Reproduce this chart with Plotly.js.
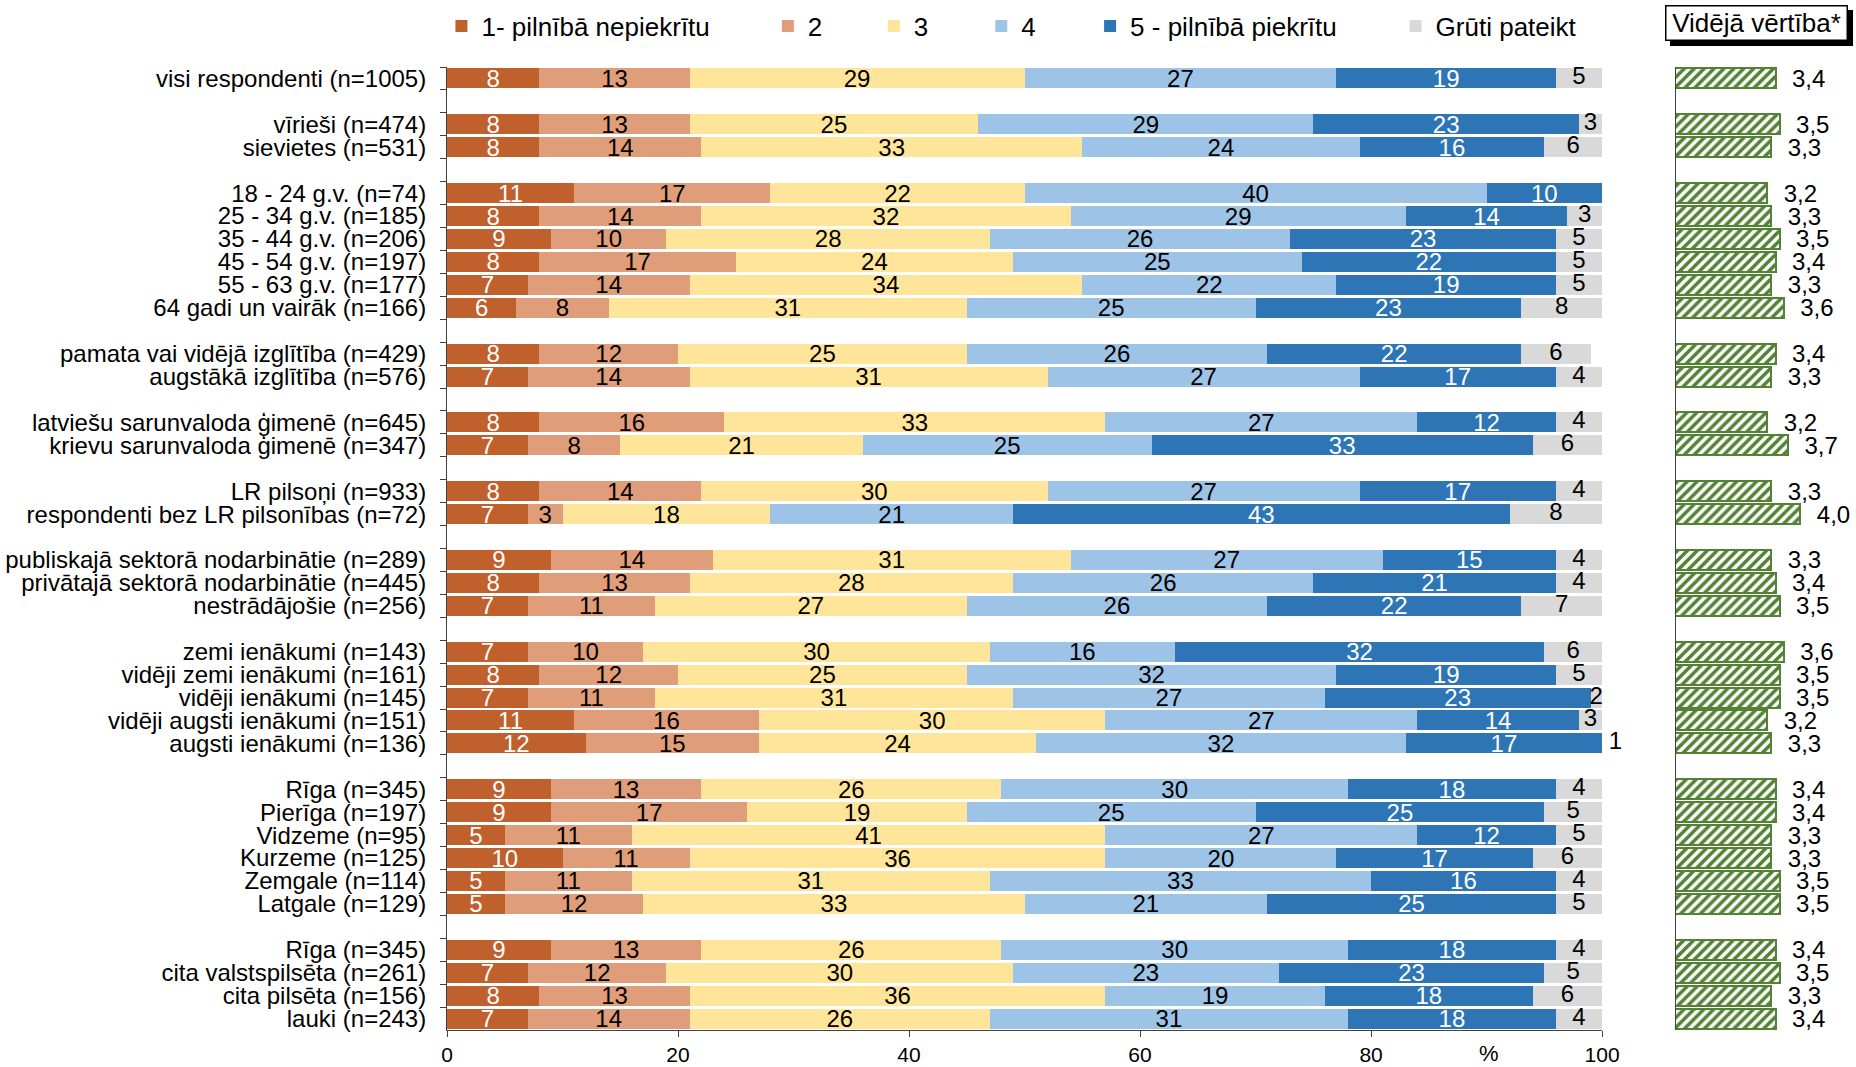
<!DOCTYPE html>
<html><head><meta charset="utf-8">
<script src="https://cdn.plot.ly/plotly-3.0.1.min.js"></script>
<style>html,body{margin:0;padding:0;background:#fff}#chart{width:1856px;height:1067px}</style>
</head><body><div id="chart"></div>
<script>
// ---------------- DATA ----------------
const categories = [
  'visi respondenti (n=1005)',
  'vīrieši (n=474)', 'sievietes (n=531)',
  '18 - 24 g.v. (n=74)', '25 - 34 g.v. (n=185)', '35 - 44 g.v. (n=206)', '45 - 54 g.v. (n=197)', '55 - 63 g.v. (n=177)', '64 gadi un vairāk (n=166)',
  'pamata vai vidējā izglītība (n=429)', 'augstākā izglītība (n=576)',
  'latviešu sarunvaloda ģimenē (n=645)', 'krievu sarunvaloda ģimenē (n=347)',
  'LR pilsoņi (n=933)', 'respondenti bez LR pilsonības (n=72)',
  'publiskajā sektorā nodarbinātie (n=289)', 'privātajā sektorā nodarbinātie (n=445)', 'nestrādājošie (n=256)',
  'zemi ienākumi (n=143)', 'vidēji zemi ienākumi (n=161)', 'vidēji ienākumi (n=145)', 'vidēji augsti ienākumi (n=151)', 'augsti ienākumi (n=136)',
  'Rīga (n=345)', 'Pierīga (n=197)', 'Vidzeme (n=95)', 'Kurzeme (n=125)', 'Zemgale (n=114)', 'Latgale (n=129)',
  'Rīga (n=345)\u200b', 'cita valstspilsēta (n=261)', 'cita pilsēta (n=156)', 'lauki (n=243)'
];
const groupSizes = [1, 2, 6, 2, 2, 2, 3, 5, 6, 4];

const seriesNames = ['1- pilnībā nepiekrītu', '2', '3', '4', '5 - pilnībā piekrītu', 'Grūti pateikt'];

const v1  = [8, 8, 8, 11, 8, 9, 8, 7, 6, 8, 7, 8, 7, 8, 7, 9, 8, 7, 7, 8, 7, 11, 12, 9, 9, 5, 10, 5, 5, 9, 7, 8, 7];
const v2  = [13, 13, 14, 17, 14, 10, 17, 14, 8, 12, 14, 16, 8, 14, 3, 14, 13, 11, 10, 12, 11, 16, 15, 13, 17, 11, 11, 11, 12, 13, 12, 13, 14];
const v3  = [29, 25, 33, 22, 32, 28, 24, 34, 31, 25, 31, 33, 21, 30, 18, 31, 28, 27, 30, 25, 31, 30, 24, 26, 19, 41, 36, 31, 33, 26, 30, 36, 26];
const v4  = [27, 29, 24, 40, 29, 26, 25, 22, 25, 26, 27, 27, 25, 27, 21, 27, 26, 26, 16, 32, 27, 27, 32, 30, 25, 27, 20, 33, 21, 30, 23, 19, 31];
const v5  = [19, 23, 16, 10, 14, 23, 22, 19, 23, 22, 17, 12, 33, 17, 43, 15, 21, 22, 32, 19, 23, 14, 17, 18, 25, 12, 17, 16, 25, 18, 23, 18, 18];
const vDK = [5, 3, 6, null, 3, 5, 5, 5, 8, 6, 4, 4, 6, 4, 8, 4, 4, 7, 6, 5, 2, 3, 1, 4, 5, 5, 6, 4, 5, 4, 5, 6, 4];

const meanValues = [3.4, 3.5, 3.3, 3.2, 3.3, 3.5, 3.4, 3.3, 3.6, 3.4, 3.3, 3.2, 3.7, 3.3, 4.0, 3.3, 3.4, 3.5, 3.6, 3.5, 3.5, 3.2, 3.3, 3.4, 3.4, 3.3, 3.3, 3.5, 3.5, 3.4, 3.5, 3.3, 3.4];

const xTicks = [0, 20, 40, 60, 80, 100];
const meanTitle = 'Vidējā vērtība*';
const unitLabel = '%';

// ---------------- BUILD ----------------
const FONT = 'Liberation Sans, Arial, Helvetica, sans-serif';
const colors = ['#C0602C', '#E09D7A', '#FFE599', '#9DC3E6', '#2E75B6', '#D9D9D9'];
const textColors = ['#ffffff', '#000000', '#000000', '#000000', '#ffffff', '#000000'];
const series = [v1, v2, v3, v4, v5, vDK];
const xMax = xTicks[xTicks.length - 1];

const catArray = [];
let k = 0;
groupSizes.forEach((n, g) => {
  for (let i = 0; i < n; i++) catArray.push(categories[k++]);
  if (g < groupSizes.length - 1) catArray.push(' '.repeat(g + 1));
});
const yRange = [catArray.length - 0.5, -0.5];

const traces = [];
series.forEach((vals, i) => {
  const last = i === series.length - 1;
  traces.push({
    type: 'bar', orientation: 'h', name: seriesNames[i],
    x: vals, y: categories,
    marker: { color: colors[i], line: { width: 0 } },
    text: vals.map(v => (v == null || last) ? '' : String(v)),
    textposition: 'inside', insidetextanchor: 'middle', textangle: 0, constraintext: 'none',
    insidetextfont: { family: FONT, size: 24, color: textColors[i] },
    legend: i === 0 ? 'legend' : 'legend' + (i + 1),
    hoverinfo: 'skip'
  });
});

// "Grūti pateikt" labels: centred in the visible part of the segment, tiny values to the right
const dkStart = categories.map((c, j) => [v1, v2, v3, v4, v5].reduce((s, a) => s + (a[j] || 0), 0));
const dkIn = [], dkOut = [];
vDK.forEach((v, j) => { if (v == null) return; (v > 1 ? dkIn : dkOut).push(j); });
traces.push({
  type: 'scatter', mode: 'text',
  x: dkIn.map(j => (dkStart[j] + Math.min(dkStart[j] + vDK[j], xMax)) / 2), y: dkIn.map(j => categories[j]),
  text: dkIn.map(j => String(vDK[j])), textposition: 'middle center', cliponaxis: false,
  textfont: { family: FONT, size: 24, color: '#000' }, showlegend: false, hoverinfo: 'skip'
});
traces.push({
  type: 'scatter', mode: 'text',
  x: dkOut.map(j => Math.min(dkStart[j] + vDK[j], xMax)), y: dkOut.map(j => categories[j]),
  text: dkOut.map(j => '\u00a0' + String(vDK[j])), textposition: 'middle right', cliponaxis: false,
  textfont: { family: FONT, size: 24, color: '#000' }, showlegend: false, hoverinfo: 'skip'
});

// mean values panel
traces.push({
  type: 'bar', orientation: 'h', x: meanValues, y: categories,
  xaxis: 'x2', yaxis: 'y2', showlegend: false, hoverinfo: 'skip',
  marker: { color: '#ffffff', pattern: { shape: '/', fgcolor: '#548235', bgcolor: '#ffffff', size: 7, solidity: 0.5 },
            line: { color: '#548235', width: 2 } },
  text: meanValues.map(v => '\u00a0\u00a0' + v.toFixed(1).replace('.', ',')),
  textposition: 'outside', cliponaxis: false, constraintext: 'none',
  outsidetextfont: { family: FONT, size: 24, color: '#000' }
});

const legendX = [-0.004, 0.230, 0.306, 0.383, 0.461, 0.680];
const legendY = 1.0426;

const layout = {
  width: 1856, height: 1067,
  margin: { l: 447, r: 14, t: 67, b: 37, autoexpand: false },
  paper_bgcolor: '#ffffff', plot_bgcolor: '#ffffff',
  font: { family: FONT, color: '#000' },
  barmode: 'stack', bargap: 0.13,
  showlegend: true,
  xaxis: {
    domain: [0, 0.828], range: [0, xMax], tickvals: xTicks, ticktext: xTicks.map(String),
    showgrid: false, zeroline: false, showline: true, linecolor: '#404040', linewidth: 1,
    ticks: 'outside', ticklen: 6, tickcolor: '#404040', tickfont: { family: FONT, size: 21, color: '#000' },
    ticklabelstandoff: 0, anchor: 'y', fixedrange: true
  },
  yaxis: {
    type: 'category', categoryorder: 'array', categoryarray: catArray, range: yRange, autorange: false,
    tickmode: 'linear', tick0: 0, dtick: 1,
    showgrid: false, zeroline: false, showline: true, linecolor: '#404040', linewidth: 1,
    ticks: 'outside', tickson: 'boundaries', ticklen: 6, tickcolor: '#404040',
    tickfont: { family: FONT, size: 24, color: '#000' }, ticklabelstandoff: 15, anchor: 'x', fixedrange: true
  },
  xaxis2: { domain: [0.881, 1.0], range: [1, 5], visible: false, anchor: 'y2', fixedrange: true },
  yaxis2: {
    type: 'category', categoryorder: 'array', categoryarray: catArray, range: yRange, autorange: false,
    showgrid: false, zeroline: false, showline: true, linecolor: '#404040', linewidth: 1,
    ticks: '', showticklabels: false, anchor: 'x2', fixedrange: true
  },
  shapes: [
    { type: 'rect', xref: 'paper', yref: 'paper', x0: 0.8767, x1: 1.0079, y0: 1.0218, y1: 1.0592,
      fillcolor: '#000', line: { width: 0 }, layer: 'above' }
  ],
  annotations: [
    { xref: 'x', yref: 'paper', x: 90.2, y: -0.0244, text: unitLabel, showarrow: false,
      font: { family: FONT, size: 22, color: '#000' }, xanchor: 'center', yanchor: 'middle' },
    { xref: 'paper', yref: 'paper', x: 0.873, y: 1.0644, xanchor: 'left', yanchor: 'top', showarrow: false,
      text: meanTitle, width: 178, height: 31, borderpad: 1, borderwidth: 1.5, bordercolor: '#000', bgcolor: '#fff',
      font: { family: FONT, size: 26, color: '#000' } }
  ]
};
seriesNames.forEach((n, i) => {
  const key = i === 0 ? 'legend' : 'legend' + (i + 1);
  layout[key] = { x: legendX[i], y: legendY, xanchor: 'left', yanchor: 'middle', orientation: 'h',
    bgcolor: 'rgba(0,0,0,0)', borderwidth: 0, font: { family: FONT, size: 26, color: '#000' },
    itemclick: false, itemdoubleclick: false };
});

Plotly.newPlot('chart', traces, layout, { displayModeBar: false, staticPlot: true });
</script></body></html>
